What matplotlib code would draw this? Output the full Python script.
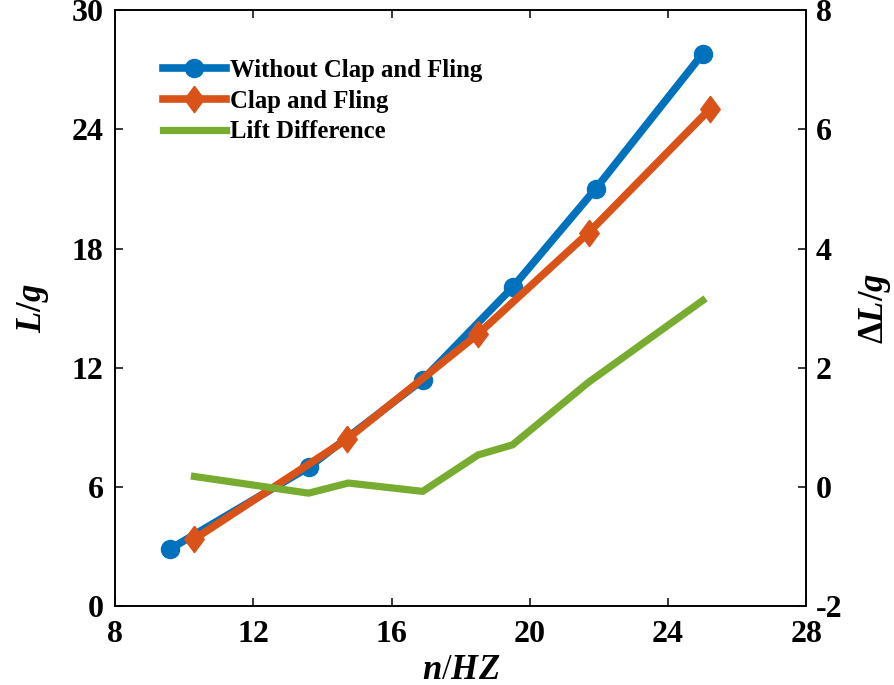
import matplotlib
matplotlib.use('Agg')
import matplotlib.pyplot as plt

# frequency (Hz) and lift (g)
x_without = [9.6, 13.6, 16.9, 19.5, 21.9, 25.0]
lift_without = [2.9, 7.0, 11.4, 16.05, 21.0, 27.8]

x_clap = [10.3, 14.7, 18.5, 21.7, 25.2]
lift_clap = [3.4, 8.4, 13.7, 18.8, 25.0]

x_diff = [10.3, 13.6, 14.75, 16.9, 18.5, 19.5, 21.7, 25.0]
lift_diff = [0.18, -0.10, 0.07, -0.07, 0.54, 0.71, 1.76, 3.13]

xticks = [8, 12, 16, 20, 24, 28]
yticks_left = [0, 6, 12, 18, 24, 30]
yticks_right = [-2, 0, 2, 4, 6, 8]

blue = '#0072BD'
orange = '#D95319'
green = '#77AC30'

plt.rcParams['font.family'] = ['Liberation Serif', 'DejaVu Serif']
plt.rcParams['font.weight'] = 'bold'
plt.rcParams['axes.unicode_minus'] = False
plt.rcParams['mathtext.fontset'] = 'custom'
plt.rcParams['mathtext.rm'] = 'Liberation Serif:bold'
plt.rcParams['mathtext.it'] = 'Liberation Serif:bold:italic'
plt.rcParams['mathtext.bf'] = 'Liberation Serif:bold'

fig = plt.figure(figsize=(8.94, 6.85), dpi=100)
ax = fig.add_axes([0.1286, 0.1146, 0.902 - 0.1286, 0.9854 - 0.1146])
ax2 = ax.twinx()

diamond = [(0, 1), (0.74, 0), (0, -1), (-0.74, 0), (0, 1)]

l1, = ax.plot(x_without, lift_without, color=blue, lw=5.5, marker='o',
              markersize=13, markerfacecolor=blue, markeredgecolor=blue,
              label='Without Clap and Fling')
l2, = ax.plot(x_clap, lift_clap, color=orange, lw=5.5, marker=diamond,
              markersize=19, markerfacecolor=orange, markeredgecolor=orange,
              label='Clap and Fling')
l3, = ax2.plot(x_diff, lift_diff, color=green, lw=5.2, label='Lift Difference')

ax.set_xlim(8, 28)
ax.set_ylim(0, 30)
ax2.set_ylim(-2, 8)
ax.set_xticks(xticks)
ax.set_yticks(yticks_left)
ax2.set_yticks(yticks_right)

ax.tick_params(axis='x', direction='in', length=6, width=1.1, labelsize=23,
               top=True, pad=10)
ax.tick_params(axis='y', direction='in', length=6, width=1.1, labelsize=23, pad=8)
ax2.tick_params(axis='y', direction='in', length=6, width=1.1, labelsize=23, pad=7)
for a in (ax, ax2):
    for s in a.spines.values():
        s.set_linewidth(1.2)

ax.set_xlabel(r'$n$/$\mathit{HZ}$', fontsize=25, labelpad=3)
ax.set_ylabel(r'$L/g$', fontsize=25, labelpad=15)
ax2.set_ylabel(r'$\mathrm{\Delta}L/g$', fontsize=25, labelpad=10)

leg = ax.legend(handles=[l1, l2, l3], loc='upper left', bbox_to_anchor=(0.055, 0.935),
                frameon=False, fontsize=17.8, handlelength=2.55, handletextpad=0.15,
                labelspacing=0.32, borderaxespad=0)
for t in leg.get_texts():
    t.set_fontweight('bold')

plt.savefig('out.png', dpi=100)
